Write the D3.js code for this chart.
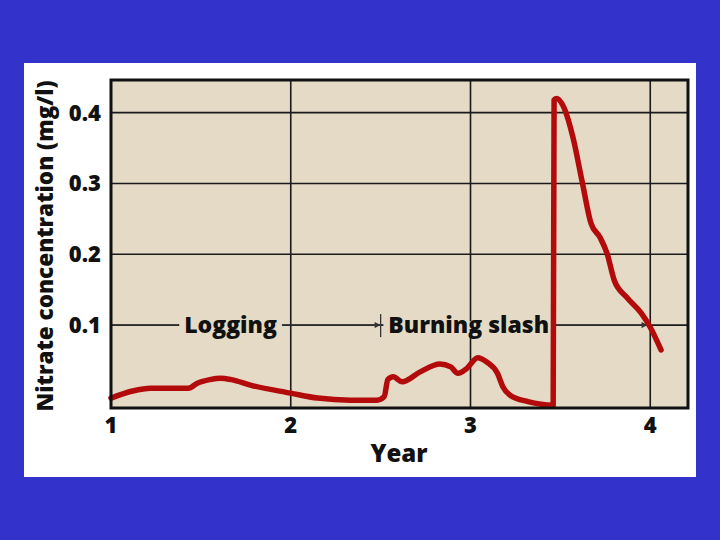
<!DOCTYPE html>
<html>
<head>
<meta charset="utf-8">
<script src="https://cdn.jsdelivr.net/npm/d3@7"></script>
<style>
  body { margin: 0; background: #3333cc; }
  svg { display: block; }
  text { font-family: "Open Sans", "Noto Sans", sans-serif; font-weight: 800; fill: #111; }
</style>
</head>
<body>
<svg></svg>
<script>
// nitrate in stream water after logging and slash burning
var years = [
  1.00, 1.12, 1.22, 1.43, 1.48, 1.55, 1.61, 1.67, 1.78, 2.00, 2.15, 2.33, 2.48,
  2.52, 2.54, 2.57, 2.62, 2.72, 2.83, 2.89, 2.93, 2.98, 3.04, 3.09, 3.15,
  3.18, 3.22, 3.32, 3.46, 3.465, 3.48, 3.52, 3.57, 3.62, 3.67, 3.72, 3.76,
  3.80, 3.87, 3.95, 4.00, 4.06
];
var nitrate = [
  -0.003, 0.007, 0.011, 0.011, 0.018, 0.023, 0.025, 0.023, 0.015, 0.004, -0.003, -0.006, -0.006,
  -0.001, 0.023, 0.027, 0.020, 0.034, 0.045, 0.041, 0.032, 0.039, 0.054, 0.048, 0.032,
  0.013, 0.001, -0.008, -0.013, 0.418, 0.420, 0.407, 0.365, 0.304, 0.244, 0.224, 0.201,
  0.163, 0.139, 0.117, 0.097, 0.065
];
var xTicks = [1, 2, 3, 4];
var yTicks = [0.1, 0.2, 0.3, 0.4];

// phases marked along the 0.1 line
var phaseLabels = ["Logging", "Burning slash"];
var phaseStart = [1, 2.5];
var phaseEnd = [2.5, 3.985];
var phaseLabelAt = [1.665, 2.99];
var phaseLevel = 0.1;

var width = 720;
var height = 540;

var svg = d3.select("svg")
    .attr("width", width)
    .attr("height", height);

svg.append("rect")
    .attr("x", 24)
    .attr("y", 63)
    .attr("width", 672)
    .attr("height", 414)
    .attr("fill", "#ffffff");

var x = d3.scaleLinear().domain([1, 4.21]).range([111, 688]);
var y = d3.scaleLinear().domain([-0.017, 0.446]).range([408, 80]);

var plot = svg.append("g");

plot.append("rect")
    .attr("x", x.range()[0])
    .attr("y", y.range()[1])
    .attr("width", x.range()[1] - x.range()[0])
    .attr("height", y.range()[0] - y.range()[1])
    .attr("fill", "#e4dac5");

// grid
plot.selectAll(".hgrid")
  .data(yTicks)
  .enter()
  .append("line")
    .attr("x1", x.range()[0])
    .attr("x2", x.range()[1])
    .attr("y1", d => y(d))
    .attr("y2", d => y(d))
    .attr("stroke", "#1a1a1a")
    .attr("stroke-width", 1.6);

plot.selectAll(".vgrid")
  .data(xTicks.slice(1))
  .enter()
  .append("line")
    .attr("x1", d => x(d))
    .attr("x2", d => x(d))
    .attr("y1", y.range()[0])
    .attr("y2", y.range()[1])
    .attr("stroke", "#1a1a1a")
    .attr("stroke-width", 1.6);

// phase annotations
svg.append("defs")
  .append("marker")
    .attr("id", "arrow")
    .attr("viewBox", "0 0 10 10")
    .attr("refX", 10)
    .attr("refY", 5)
    .attr("markerWidth", 9)
    .attr("markerHeight", 6)
    .attr("markerUnits", "userSpaceOnUse")
    .attr("orient", "auto")
  .append("path")
    .attr("d", "M0,0L10,5L0,10Z")
    .attr("fill", "#333");

var ann = plot.append("g");
var py = y(phaseLevel);

phaseLabels.forEach(function(label, i) {
  var g = ann.append("g");
  var t = g.append("text")
      .attr("x", x(phaseLabelAt[i]))
      .attr("y", py + 8)
      .attr("text-anchor", "middle")
      .style("font-size", "23px")
      .text(label);
  var box = t.node().getBBox();
  g.insert("rect", "text")
      .attr("x", box.x - 5)
      .attr("y", py - 4)
      .attr("width", box.width + 10)
      .attr("height", 8)
      .attr("fill", "#e4dac5");
  g.insert("line", "text")
      .attr("x1", x(phaseStart[i]))
      .attr("x2", box.x - 5)
      .attr("y1", py)
      .attr("y2", py)
      .attr("stroke", "#333")
      .attr("stroke-width", 1.4);
  g.insert("line", "text")
      .attr("x1", box.x + box.width + 5)
      .attr("x2", x(phaseEnd[i]))
      .attr("y1", py)
      .attr("y2", py)
      .attr("stroke", "#333")
      .attr("stroke-width", 1.4)
      .attr("marker-end", "url(#arrow)");
  if (i > 0) {
    g.append("line")
        .attr("x1", x(phaseStart[i]))
        .attr("x2", x(phaseStart[i]))
        .attr("y1", py - 11)
        .attr("y2", py + 12)
        .attr("stroke", "#333")
        .attr("stroke-width", 1.3);
  }
});

// curve
var line = d3.line()
    .x(d => x(d[0]))
    .y(d => y(d[1]))
    .curve(d3.curveMonotoneX);

plot.append("path")
    .datum(years.map((yr, i) => [yr, nitrate[i]]))
    .attr("d", line)
    .attr("fill", "none")
    .attr("stroke", "#b30b0b")
    .attr("stroke-width", 5.5)
    .attr("stroke-linejoin", "round")
    .attr("stroke-linecap", "round");

// frame
plot.append("rect")
    .attr("x", x.range()[0])
    .attr("y", y.range()[1])
    .attr("width", x.range()[1] - x.range()[0])
    .attr("height", y.range()[0] - y.range()[1])
    .attr("fill", "none")
    .attr("stroke", "#111")
    .attr("stroke-width", 3);

// tick labels
svg.selectAll(".ylab")
  .data(yTicks)
  .enter()
  .append("text")
    .attr("x", 101)
    .attr("y", d => y(d))
    .attr("dy", "0.36em")
    .attr("text-anchor", "end")
    .style("font-size", "22px")
    .text(d => d3.format(".1f")(d));

svg.selectAll(".xlab")
  .data(xTicks)
  .enter()
  .append("text")
    .attr("x", d => x(d))
    .attr("y", 433)
    .attr("text-anchor", "middle")
    .style("font-size", "22px")
    .text(d => d);

svg.append("text")
    .attr("x", 399)
    .attr("y", 462)
    .attr("text-anchor", "middle")
    .style("font-size", "24px")
    .text("Year");

svg.append("text")
    .attr("transform", "translate(53, 246) rotate(-90)")
    .attr("text-anchor", "middle")
    .style("font-size", "22.5px")
    .text("Nitrate concentration (mg/l)");
</script>
</body>
</html>
